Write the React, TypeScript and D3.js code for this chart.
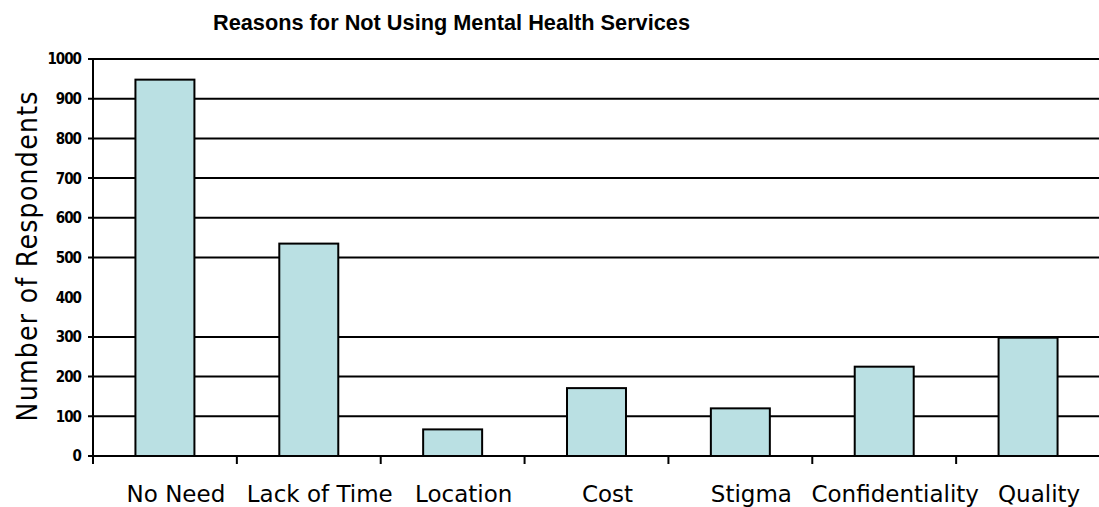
import { useRef, useEffect } from 'react';
import * as d3 from 'd3';

const categories = ['No Need', 'Lack of Time', 'Location', 'Cost', 'Stigma', 'Confidentiality', 'Quality'];
const respondents = [948, 535, 67, 171, 120, 225, 298];
const tickValues = [0, 100, 200, 300, 400, 500, 600, 700, 800, 900, 1000];
// the original has no gridline at 400
const gridValues = [100, 200, 300, 500, 600, 700, 800, 900, 1000];

const W = 1099;
const H = 507;
const margin = { top: 59, right: -1, bottom: 51, left: 93 };

export default function App() {
  const svgRef = useRef<SVGSVGElement>(null);

  useEffect(() => {
    if (!svgRef.current) return;
    const svg = d3.select(svgRef.current);
    svg.selectAll('*').remove();

    const innerW = W - margin.left - margin.right;
    const innerH = H - margin.top - margin.bottom;

    const y = d3.scaleLinear().domain([0, 1000]).range([innerH, 0]);
    const band = d3.scaleBand().domain(categories).range([0, innerW]).padding(0);
    const x = d3
      .scaleBand()
      .domain(categories)
      .range([0, innerW])
      .paddingInner(0.59)
      .paddingOuter(0.295);

    // title
    svg
      .append('text')
      .attr('x', 213)
      .attr('y', 30)
      .attr('font-family', 'Liberation Sans, Arial, sans-serif')
      .attr('font-weight', 'bold')
      .attr('font-size', 22)
      .attr('textLength', 477)
      .attr('lengthAdjust', 'spacingAndGlyphs')
      .text('Reasons for Not Using Mental Health Services');

    // y title
    svg
      .append('text')
      .attr('transform', `translate(37,${margin.top + innerH / 2 - 1}) rotate(-90)`)
      .attr('text-anchor', 'middle')
      .attr('font-family', 'DejaVu Sans Condensed, DejaVu Sans, sans-serif')
      .attr('font-size', 28)
      .attr('textLength', 330)
      .attr('lengthAdjust', 'spacing')
      .text('Number of Respondents');

    const g = svg.append('g').attr('transform', `translate(${margin.left},${margin.top})`);

    // gridlines (with the little outward tick on the left)
    g.selectAll('.grid')
      .data(gridValues)
      .join('line')
      .attr('x1', -5)
      .attr('x2', innerW + 2)
      .attr('y1', (d) => y(d))
      .attr('y2', (d) => y(d))
      .attr('stroke', '#000')
      .attr('stroke-width', 2);

    // y tick labels
    g.selectAll('.ylab')
      .data(tickValues)
      .join('text')
      .attr('x', -12)
      .attr('y', (d) => y(d))
      .attr('dy', '0.36em')
      .attr('text-anchor', 'end')
      .attr('font-family', 'Liberation Sans Narrow, DejaVu Sans Condensed, sans-serif')
      .attr('font-weight', 'bold')
      .attr('font-size', 15)
      .attr('letter-spacing', -1)
      .text((d) => d);

    // bars
    g.selectAll('.bar')
      .data(respondents)
      .join('rect')
      .attr('x', (_, i) => x(categories[i]) || 0)
      .attr('y', (d) => y(d))
      .attr('width', x.bandwidth())
      .attr('height', (d) => innerH - y(d))
      .attr('fill', '#BAE0E3')
      .attr('stroke', '#000')
      .attr('stroke-width', 2);

    // x axis line + left axis
    g.append('line')
      .attr('x1', -5)
      .attr('x2', innerW + 2)
      .attr('y1', innerH)
      .attr('y2', innerH)
      .attr('stroke', '#000')
      .attr('stroke-width', 2);
    g.append('line')
      .attr('x1', 0)
      .attr('x2', 0)
      .attr('y1', 0)
      .attr('y2', innerH + 8)
      .attr('stroke', '#000')
      .attr('stroke-width', 2);

    // category boundary ticks
    g.selectAll('.xtick')
      .data(categories.slice(1))
      .join('line')
      .attr('x1', (d) => band(d) || 0)
      .attr('x2', (d) => band(d) || 0)
      .attr('y1', innerH)
      .attr('y2', innerH + 8)
      .attr('stroke', '#000')
      .attr('stroke-width', 2);

    // category labels
    g.selectAll('.xlab')
      .data(categories)
      .join('text')
      .attr('x', (d) => (band(d) || 0) + band.bandwidth() / 2 + 11)
      .attr('y', innerH + 46)
      .attr('text-anchor', 'middle')
      .attr('font-family', 'DejaVu Sans, Verdana, sans-serif')
      .attr('font-size', 23)
      .text((d) => d);
  }, []);

  return (
    <svg
      ref={svgRef}
      width={W}
      height={H}
      viewBox={`0 0 ${W} ${H}`}
      style={{ position: 'absolute', left: 0, top: 0, background: '#fff' }}
    ></svg>
  );
}
